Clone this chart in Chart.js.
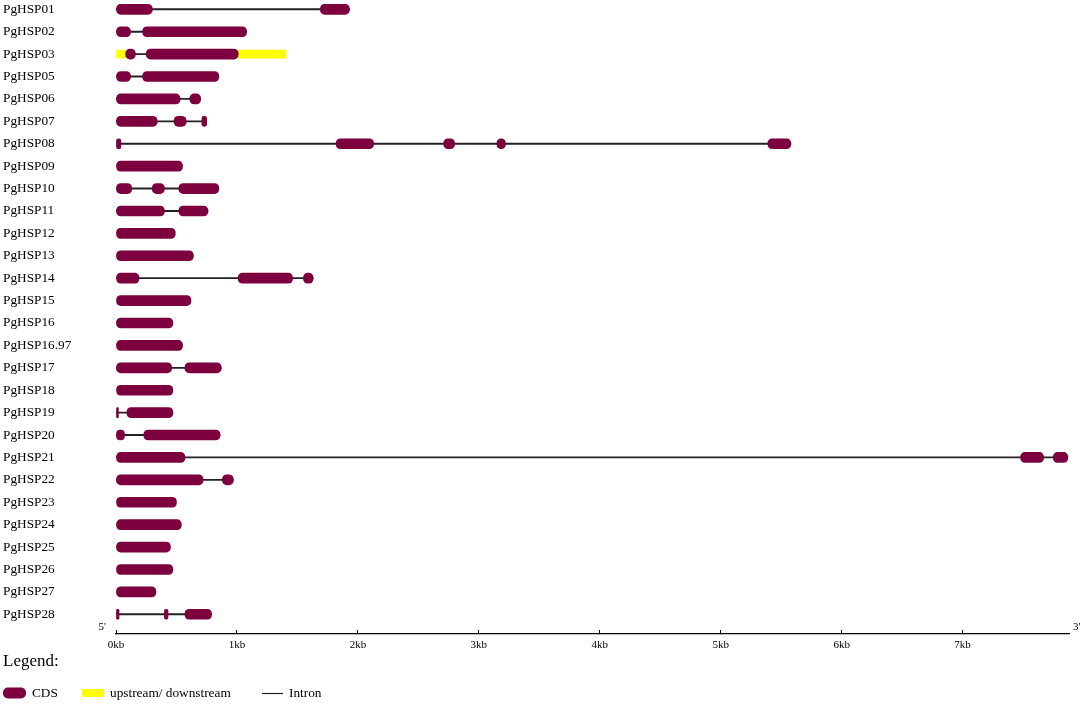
<!DOCTYPE html>
<html>
<head>
<meta charset="utf-8">
<script src="https://cdn.jsdelivr.net/npm/chart.js@4.4.1/dist/chart.umd.min.js"></script>
<style>
  html, body { margin: 0; padding: 0; background: #fff; }
  #wrap { width: 1084px; height: 705px; }
</style>
</head>
<body>
<div id="wrap"><canvas id="c"></canvas></div>
<script>
// gene names, top to bottom
const genes = ['PgHSP01', 'PgHSP02', 'PgHSP03', 'PgHSP05', 'PgHSP06', 'PgHSP07', 'PgHSP08', 'PgHSP09',
  'PgHSP10', 'PgHSP11', 'PgHSP12', 'PgHSP13', 'PgHSP14', 'PgHSP15', 'PgHSP16', 'PgHSP16.97',
  'PgHSP17', 'PgHSP18', 'PgHSP19', 'PgHSP20', 'PgHSP21', 'PgHSP22', 'PgHSP23', 'PgHSP24',
  'PgHSP25', 'PgHSP26', 'PgHSP27', 'PgHSP28'];

// CDS segments in kb, by exon rank (null = gene has no such exon)
const exon1 = [[0, 0.30], [0, 0.12], [0.08, 0.16], [0, 0.12], [0, 0.53], [0, 0.34], [0, 0.04], [0, 0.55],
  [0, 0.13], [0, 0.40], [0, 0.49], [0, 0.64], [0, 0.19], [0, 0.62], [0, 0.47], [0, 0.55],
  [0, 0.46], [0, 0.47], [0, 0.02], [0, 0.07], [0, 0.57], [0, 0.72], [0, 0.50], [0, 0.54],
  [0, 0.45], [0, 0.47], [0, 0.33], [0, 0.025]];
const exon2 = [[1.69, 1.93], [0.22, 1.08], [0.25, 1.01], [0.22, 0.85], [0.61, 0.70], [0.48, 0.58], [1.82, 2.13], null,
  [0.30, 0.40], [0.52, 0.76], null, null, [1.01, 1.46], null, null, null,
  [0.57, 0.87], null, [0.09, 0.47], [0.23, 0.86], [7.48, 7.67], [0.88, 0.97], null, null,
  null, null, null, [0.40, 0.43]];
const exon3 = [null, null, null, null, null, [0.71, 0.75], [2.71, 2.80], null,
  [0.52, 0.85], null, null, null, [1.55, 1.63], null, null, null,
  null, null, null, null, [7.75, 7.87], null, null, null,
  null, null, null, [0.57, 0.79]];
const exon4 = [null, null, null, null, null, null, [3.15, 3.22], null,
  null, null, null, null, null, null, null, null,
  null, null, null, null, null, null, null, null,
  null, null, null, null];
const exon5 = [null, null, null, null, null, null, [5.39, 5.58], null,
  null, null, null, null, null, null, null, null,
  null, null, null, null, null, null, null, null,
  null, null, null, null];

// UTR segments (only PgHSP03 has them)
const upstream = [null, null, [0, 0.08]];
const downstream = [null, null, [1.01, 1.405]];

const tickLabels = ['0kb', '1kb', '2kb', '3kb', '4kb', '5kb', '6kb', '7kb'];

const CDS_COLOR = '#7d003f';
const UTR_COLOR = '#ffff00';
const LINE_COLOR = '#222';
const SERIF = "'Liberation Serif', 'Times New Roman', serif";

function toPoints(arr) {
  return arr.map((r, i) => r ? { x: r, y: i } : null).filter(p => p);
}

const exons = [exon1, exon2, exon3, exon4, exon5];
// intron line runs from the first CDS start to the last CDS end
const introns = genes.map((g, i) => {
  const parts = exons.map(e => e[i]).filter(Boolean);
  return parts.length > 1 ? [parts[0][0], parts[parts.length - 1][1]] : null;
});

const cdsSet = (arr, n) => ({
  label: 'CDS ' + n,
  data: toPoints(arr),
  backgroundColor: CDS_COLOR,
  barThickness: 10,
  borderRadius: 4.5,
  borderSkipped: false,
  grouped: false,
  order: 1
});

const datasets = [
  { label: 'Intron', data: toPoints(introns), backgroundColor: LINE_COLOR, barThickness: 1.2, grouped: false, order: 3 },
  { label: 'upstream', data: toPoints(upstream), backgroundColor: UTR_COLOR, barThickness: 8, grouped: false, order: 2 },
  { label: 'downstream', data: toPoints(downstream), backgroundColor: UTR_COLOR, barThickness: 8, grouped: false, order: 2 }
].concat(exons.map((e, k) => cdsSet(e, k + 1)));

// 5'/3' marks and the legend block under the axis
const decorations = {
  id: 'decorations',
  afterDraw(chart) {
    const { ctx } = chart;
    const x = chart.scales.x;
    ctx.save();
    ctx.fillStyle = '#000';
    ctx.textBaseline = 'middle';
    ctx.font = '11px ' + SERIF;
    ctx.textAlign = 'right';
    ctx.fillText("5'", x.left - 10, x.top - 7);
    ctx.textAlign = 'left';
    ctx.fillText("3'", x.right + 4, x.top - 7);

    ctx.font = '17px ' + SERIF;
    ctx.fillText('Legend:', 3, 662);

    const ly = 693;
    ctx.fillStyle = CDS_COLOR;
    ctx.beginPath();
    ctx.roundRect(3, ly - 5.5, 23, 11, 5);
    ctx.fill();
    ctx.fillStyle = UTR_COLOR;
    ctx.fillRect(82, ly - 4, 22, 8);
    ctx.strokeStyle = LINE_COLOR;
    ctx.lineWidth = 1.2;
    ctx.beginPath();
    ctx.moveTo(262, ly + 0.5);
    ctx.lineTo(283, ly + 0.5);
    ctx.stroke();

    ctx.fillStyle = '#000';
    ctx.font = '13.3px ' + SERIF;
    ctx.fillText('CDS', 32, ly + 1);
    ctx.fillText('upstream/ downstream', 110, ly + 1);
    ctx.fillText('Intron', 289, ly + 1);
    ctx.restore();
  }
};

new Chart(document.getElementById('c'), {
  type: 'bar',
  data: { datasets },
  plugins: [decorations],
  options: {
    indexAxis: 'y',
    responsive: true,
    maintainAspectRatio: false,
    animation: false,
    layout: { padding: { left: 3, right: 15, top: 0, bottom: 51 } },
    plugins: { legend: { display: false }, tooltip: { enabled: false } },
    scales: {
      x: {
        type: 'linear',
        position: 'bottom',
        min: 0,
        max: 7.88,
        afterFit: s => { s.height = 20; s.paddingLeft = 0; s.paddingRight = 0; },
        grid: { drawOnChartArea: false, drawTicks: true, tickLength: -4, color: '#000', lineWidth: 1 },
        border: { display: true, color: '#000', width: 1.2 },
        ticks: {
          stepSize: 1, includeBounds: false, padding: 9, maxRotation: 0,
          color: '#000', font: { family: SERIF, size: 11 },
          callback: v => tickLabels[v]
        }
      },
      y: {
        type: 'linear',
        reverse: true,
        min: -0.415,
        max: 27.88,
        offset: false,
        afterBuildTicks: s => { s.ticks = genes.map((g, i) => ({ value: i })); },
        afterFit: s => { s.width = 113; s.paddingTop = 0; s.paddingBottom = 0; },
        grid: { display: false, offset: false },
        border: { display: false },
        ticks: {
          autoSkip: false, crossAlign: 'far', padding: 0,
          color: '#000', font: { family: SERIF, size: 13.3 },
          callback: v => genes[v]
        }
      }
    }
  }
});
</script>
</body>
</html>
